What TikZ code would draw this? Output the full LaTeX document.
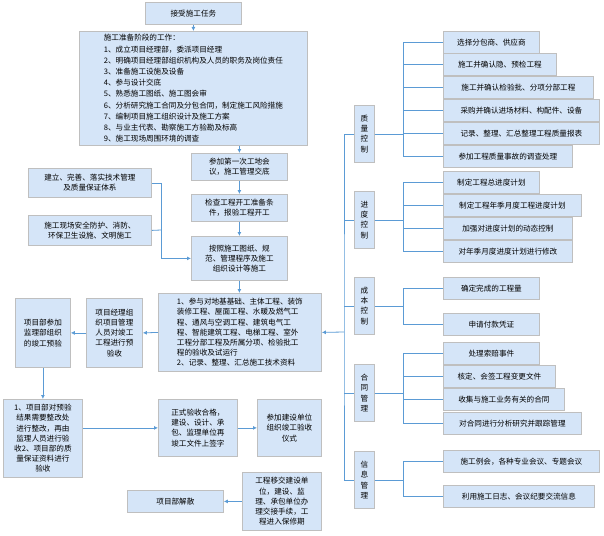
\documentclass[tikz,border=0pt]{standalone}
\usepackage{fontspec}
\setmainfont{Noto Sans CJK SC}
\usetikzlibrary{arrows.meta}
\definecolor{boxfill}{HTML}{D5E5F8}
\definecolor{boxline}{HTML}{BFBFBF}
\definecolor{linkblue}{HTML}{5B9BD5}

\begin{document}
\begin{tikzpicture}[x=1pt, y=-1pt,
		block/.style={
				rectangle,
				draw=boxline,
				fill=boxfill,
				line width=0.8pt,
				anchor=north west,
				align=center,
				inner sep=2pt,
				font=\fontsize{7.6}{10.2}\selectfont
			},
		leaf/.style={block, align=left, text depth=0pt, minimum height=22pt},
		link/.style={draw=linkblue, line width=0.8pt},
		line/.style={link, -{Latex[length=4pt,width=4pt]}}
	]
	\useasboundingbox (0,0) rectangle (604,535);
	% main flow
	\node [block, minimum width=96pt, minimum height=22pt] (task) at (145,2) {接受施工任务};
	\node [block, minimum width=228pt, minimum height=114pt, align=left, font=\fontsize{7.6}{11.2}\selectfont] (prep) at (79,31) {施工准备阶段的工作：\\1、成立项目经理部，委派项目经理\\2、明确项目经理部组织机构及人员的职务及岗位责任\\3、准备施工设施及设备\\4、参与设计交底\\5、熟悉施工图纸、施工图会审\\6、分析研究施工合同及分包合同，制定施工风险措施\\7、编制项目施工组织设计及施工方案\\8、与业主代表、勘察施工方验勘及标高\\9、施工现场周围环境的调查};
	\node [block, minimum width=96pt, minimum height=27pt] (meet) at (191,153) {参加第一次工地会\\议，施工管理交底};
	\node [block, minimum width=96pt, minimum height=27pt] (check) at (191,194) {检查工程开工准备条\\件，报验工程开工};
	\node [block, minimum width=96pt, minimum height=44pt] (plan) at (191,236) {按照施工图纸、规\\范、管理程序及施工\\组织设计等施工};
	\node [block, minimum width=123pt, minimum height=29pt] (sys) at (28,168) {建立、完善、落实技术管理\\及质量保证体系};
	\node [block, minimum width=123pt, minimum height=30pt] (safe) at (28,215) {施工现场安全防护、消防、\\环保卫生设施、文明施工};
	\node [block, minimum width=163pt, minimum height=78pt, align=left] (acc) at (158,293) {1、参与对地基基础、主体工程、装饰\\装修工程、屋面工程、水暖及燃气工\\程、通风与空调工程、建筑电气工\\程、智能建筑工程、电梯工程、室外\\工程分部工程及所属分项、检验批工\\程的验收及试运行\\2、记录、整理、汇总施工技术资料};
	\node [block, minimum width=56pt, minimum height=69pt] (pm) at (86,298) {项目经理组\\织项目管理\\人员对竣工\\工程进行预\\验收};
	\node [block, minimum width=55pt, minimum height=69pt] (pre) at (15,298) {项目部参加\\监理部组织\\的竣工预验};
	\node [block, minimum width=79pt, minimum height=78pt] (fix) at (3,399) {1、项目部对预验\\结果需要整改处\\进行整改，再由\\监理人员进行验\\收2、项目部的质\\量保证资料进行\\验收};
	\node [block, minimum width=79pt, minimum height=57pt] (sign) at (158,399) {正式验收合格，\\建设、设计、承\\包、监理单位再\\竣工文件上签字};
	\node [block, minimum width=64pt, minimum height=57pt] (cer) at (257,399) {参加建设单位\\组织竣工验收\\仪式};
	\node [block, minimum width=79pt, minimum height=58pt] (hand) at (242,472) {工程移交建设单\\位，建设、监\\理、承包单位办\\理交接手续，工\\程进入保修期};
	\node [block, minimum width=96pt, minimum height=22pt] (end) at (127,490) {项目部解散};
	% control boxes
	\foreach \nm/\y/\txt in {qc/105/质\\量\\控\\制, sc/191/进\\度\\控\\制, cc/277/成\\本\\控\\制, hc/364/合\\同\\管\\理, ic/451/信\\息\\管\\理}
		\node [block, minimum width=20pt, minimum height=57pt] (\nm) at (354,\y) {\txt};
	% leaves
	\foreach \nm/\y/\w/\txt in {
			q1/31/96/选择分包商、供应商, q2/53/113/施工并确认隐、预检工程,
			q3/76/150/施工并确认检验批、分项分部工程, q4/99/156/采购并确认进场材料、构配件、设备,
			q5/122/156/记录、整理、汇总整理工程质量报表, q6/145/129/参加工程质量事故的调查处理,
			s1/171/96/制定工程总进度计划, s2/194/138/制定工程年季月度工程进度计划,
			s3/217/129/加强对进度计划的动态控制, s4/240/129/对年季月度进度计划进行修改,
			c1/277/96/确定完成的工程量, c2/313/96/申请付款凭证,
			h1/342/96/处理索赔事件, h2/365/112/核定、会签工程变更文件,
			h3/388/121/收集与施工业务有关的合同, h4/412/138/对合同进行分析研究并跟踪管理,
			i1/450/156/施工例会，各种专业会议、专题会议, i2/485/151/利用施工日志、会议纪要交流信息}
		\node [leaf, minimum width=\w pt] (\nm) at (443,\y) {\txt};
	% control links
	\foreach \c/\ls in {qc/{q1,q2,q3,q4,q5,q6}, sc/{s1,s2,s3,s4}, cc/{c1,c2}, hc/{h1,h2,h3,h4}, ic/{i1,i2}}
		\foreach \l in \ls
			\path [link] (\c.east) -| ([xshift=-40pt]\l.west) -- (\l.west);
	\coordinate (bus) at (344,332);
	\path [link] (qc.west) -| (bus) |- (ic.west);
	\foreach \c in {sc, cc, hc}
		\path [link] (\c.west) -- (\c.west -| bus);
	% Draw edges
	\path [line] (task) -- (task |- prep.north);
	\path [line] (prep.south -| meet) -- (meet);
	\path [line] (meet) -- (check);
	\path [line] (check) -- (plan);
	\path [line] (plan) -- (acc.north -| plan.south);
	\coordinate (join) at (161,230);
	\path [link] (sys.east) -| (join);
	\path [link] (safe.east) -- (join);
	\path [line] (join) |- (plan.west);
	\path [line] (bus) -- (acc.east);
	\path [line] (acc.west) -- (pm.east);
	\path [line] (pm.west) -- (pre.east);
	\path [line] (pre) -- (fix);
	\path [line] (fix.east |- sign.west) -- (sign.west);
	\path [line] (sign) -- (cer);
	\path [line] (hand.west |- end.east) -- (end.east);
\end{tikzpicture}
\end{document}
